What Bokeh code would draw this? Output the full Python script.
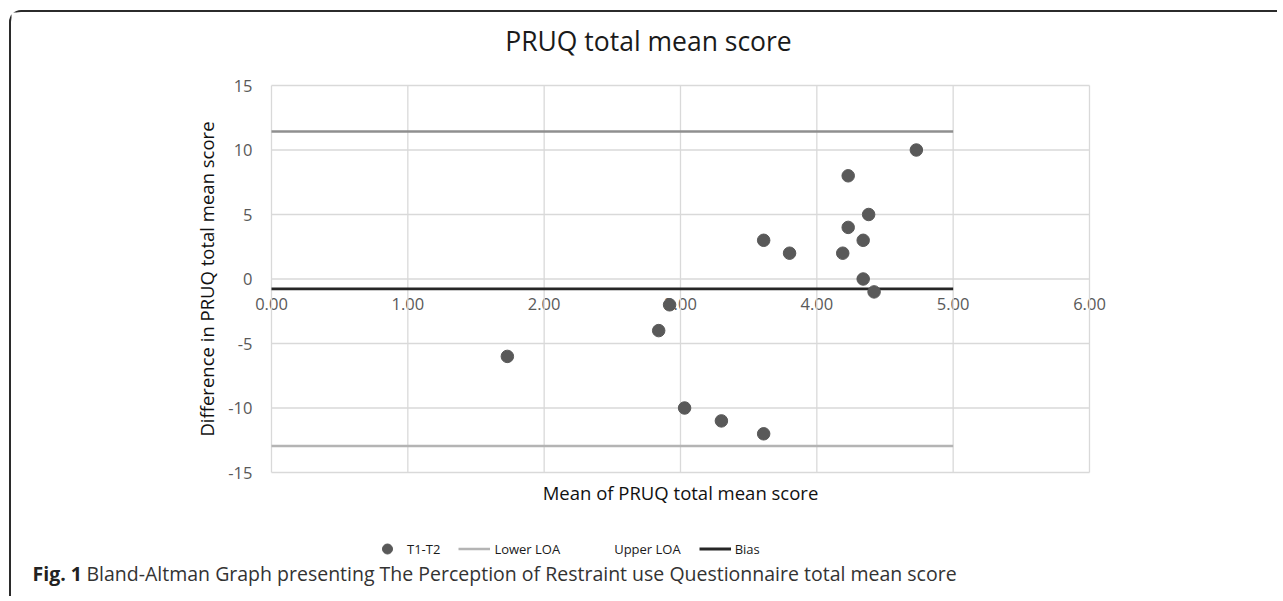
from bokeh.plotting import figure
from bokeh.models import (Range1d, FixedTicker, Legend, LegendItem, Label,
                          LinearAxis)
from bokeh.embed import file_html
from bokeh.resources import INLINE

# ---- data ----
mean_scores = [4.73, 4.23, 4.38, 4.23, 3.61, 4.34, 3.80, 4.19, 4.34, 4.42,
               2.92, 2.84, 3.03, 3.30, 3.61, 1.73]
differences = [10, 8, 5, 4, 3, 3, 2, 2, 0, -1, -2, -4, -10, -11, -12, -6]
loa_x = [0.0, 5.0]
upper_loa = 11.43
lower_loa = -12.95
bias = -0.76
x_ticks = [0, 1, 2, 3, 4, 5, 6]
x_tick_labels = ["0.00", "1.00", "2.00", "3.00", "4.00", "5.00", "6.00"]
y_ticks = [-15, -10, -5, 0, 5, 10, 15]
y_tick_labels = ["-15", "-10", "-5", "0", "5", "10", "15"]
legend_labels = ["T1-T2", "Lower LOA", "Upper LOA", "Bias"]
caption_bold = "Fig. 1"
caption_text = ("Bland-Altman Graph presenting The Perception of Restraint use "
                "Questionnaire total mean score")
chart_title = "PRUQ total mean score"
x_title = "Mean of PRUQ total mean score"
y_title = "Difference in PRUQ total mean score"

# ---- styling / layout ----
FONT = "Open Sans"
TICK_COLOR = "#595959"
GRID_COLOR = "#d9d9d9"
PT_COLOR = "#595959"
UPPER_COLOR = "#8f8f8f"
LOWER_COLOR = "#b4b4b4"
BIAS_COLOR = "#262626"

W, H = 1268, 586
# plot-area box inside the canvas (pixels from the canvas top-left)
PLOT_L, PLOT_R, PLOT_T, PLOT_B = 260, 1078, 73, 460
SX = (PLOT_R - PLOT_L) / (x_ticks[-1] - x_ticks[0])
SY = (PLOT_B - PLOT_T) / (y_ticks[-1] - y_ticks[0])
X0 = x_ticks[0] - PLOT_L / SX
X1 = x_ticks[-1] + (W - PLOT_R) / SX
Y1 = y_ticks[-1] + PLOT_T / SY
Y0 = y_ticks[0] - (H - PLOT_B) / SY


def dx(px):
    return X0 + px / SX


def dy(py):
    return Y1 - py / SY


p = figure(width=W, height=H, x_range=Range1d(X0, X1), y_range=Range1d(Y0, Y1),
           output_backend="svg", toolbar_location=None, title=None,
           min_border=0)
p.styles = {"margin-left": "9px", "margin-top": "10px",
            "border-top": "2px solid #2b2b2b", "border-left": "2px solid #2b2b2b",
            "border-top-left-radius": "12px"}
p.outline_line_color = None
p.border_fill_color = "white"
p.grid.visible = False

# grid limited to the tick span (Excel plot area)
p.segment(x0=x_ticks, y0=[y_ticks[0]] * len(x_ticks), x1=x_ticks,
          y1=[y_ticks[-1]] * len(x_ticks), line_color=GRID_COLOR, line_width=1.3)
p.segment(x0=[x_ticks[0]] * len(y_ticks), y0=y_ticks,
          x1=[x_ticks[-1]] * len(y_ticks), y1=y_ticks,
          line_color=GRID_COLOR, line_width=1.3)

# x axis: tick labels at the y = 0 crossing (Excel style)
xa = p.xaxis[0]
xa.fixed_location = 0
xa.bounds = (x_ticks[0], x_ticks[-1])
xa.ticker = FixedTicker(ticks=x_ticks)
xa.major_label_overrides = {t: s for t, s in zip(x_ticks, x_tick_labels)}
xa.major_label_text_font = FONT
xa.major_label_text_font_size = "16.5px"
xa.major_label_text_color = TICK_COLOR
xa.major_label_standoff = 19
xa.major_tick_out = 0
xa.major_tick_in = 0
xa.minor_tick_line_color = None
xa.axis_line_color = None
xa.level = "underlay"

# x title carried by an axis on the bottom edge of the plot area
xt = LinearAxis(fixed_location=y_ticks[0], bounds=(x_ticks[0], x_ticks[-1]),
                ticker=FixedTicker(ticks=[]), axis_label=x_title,
                axis_line_color=None, major_tick_out=0, major_tick_in=0,
                minor_tick_line_color=None, major_label_standoff=0,
                axis_label_text_font=FONT, axis_label_text_font_size="18.5px",
                axis_label_text_font_style="normal",
                axis_label_text_color="#111111", axis_label_standoff=7)
p.add_layout(xt, "below")

# y axis on the left edge of the plot area
ya = p.yaxis[0]
ya.fixed_location = x_ticks[0]
ya.bounds = (y_ticks[0], y_ticks[-1])
ya.ticker = FixedTicker(ticks=y_ticks)
ya.major_label_overrides = {t: s for t, s in zip(y_ticks, y_tick_labels)}
ya.major_label_text_font = FONT
ya.major_label_text_font_size = "16.5px"
ya.major_label_text_color = TICK_COLOR
ya.major_label_standoff = 19
ya.major_tick_out = 0
ya.major_tick_in = 0
ya.minor_tick_line_color = None
ya.axis_line_color = None
ya.axis_label = y_title
ya.axis_label_text_font = FONT
ya.axis_label_text_font_size = "18.5px"
ya.axis_label_text_font_style = "normal"
ya.axis_label_text_color = "#111111"
ya.axis_label_standoff = 6

# limit lines
r_upper = p.line(loa_x, [upper_loa, upper_loa], line_color=UPPER_COLOR, line_width=2.6)
r_lower = p.line(loa_x, [lower_loa, lower_loa], line_color=LOWER_COLOR, line_width=2.6)
r_bias = p.line(loa_x, [bias, bias], line_color=BIAS_COLOR, line_width=2.8)
r_upper_key = p.line(loa_x, [upper_loa, upper_loa], line_alpha=0)

# points
r_pts = p.scatter(mean_scores, differences, size=12.5, fill_color=PT_COLOR,
                  line_color=PT_COLOR)

# chart title
p.add_layout(Label(x=dx(637), y=dy(28), text=chart_title, text_font=FONT,
                   text_font_size="26.5px", text_align="center",
                   text_baseline="middle", text_color="#1a1a1a"))

legend = Legend(items=[LegendItem(label=legend_labels[0], renderers=[r_pts]),
                       LegendItem(label=legend_labels[1], renderers=[r_lower]),
                       LegendItem(label=legend_labels[2], renderers=[r_upper_key]),
                       LegendItem(label=legend_labels[3], renderers=[r_bias])],
                orientation="horizontal", location=(360, 37),
                glyph_width=32, glyph_height=25, label_standoff=4, spacing=18,
                padding=0, margin=0, border_line_color=None,
                background_fill_alpha=0, label_text_font=FONT,
                label_text_font_size="13px", label_text_color="#1a1a1a")
p.add_layout(legend)

# caption
p.add_layout(Label(x=dx(21), y=dy(561), text=caption_bold, text_font=FONT,
                   text_font_size="19.5px", text_font_style="bold",
                   text_baseline="middle", text_color="#222222"))
p.add_layout(Label(x=dx(75), y=dy(561), text=caption_text, text_font=FONT,
                   text_font_size="19.5px", text_baseline="middle",
                   text_color="#333333"))

open("out.html", "w").write(file_html(p, INLINE))
